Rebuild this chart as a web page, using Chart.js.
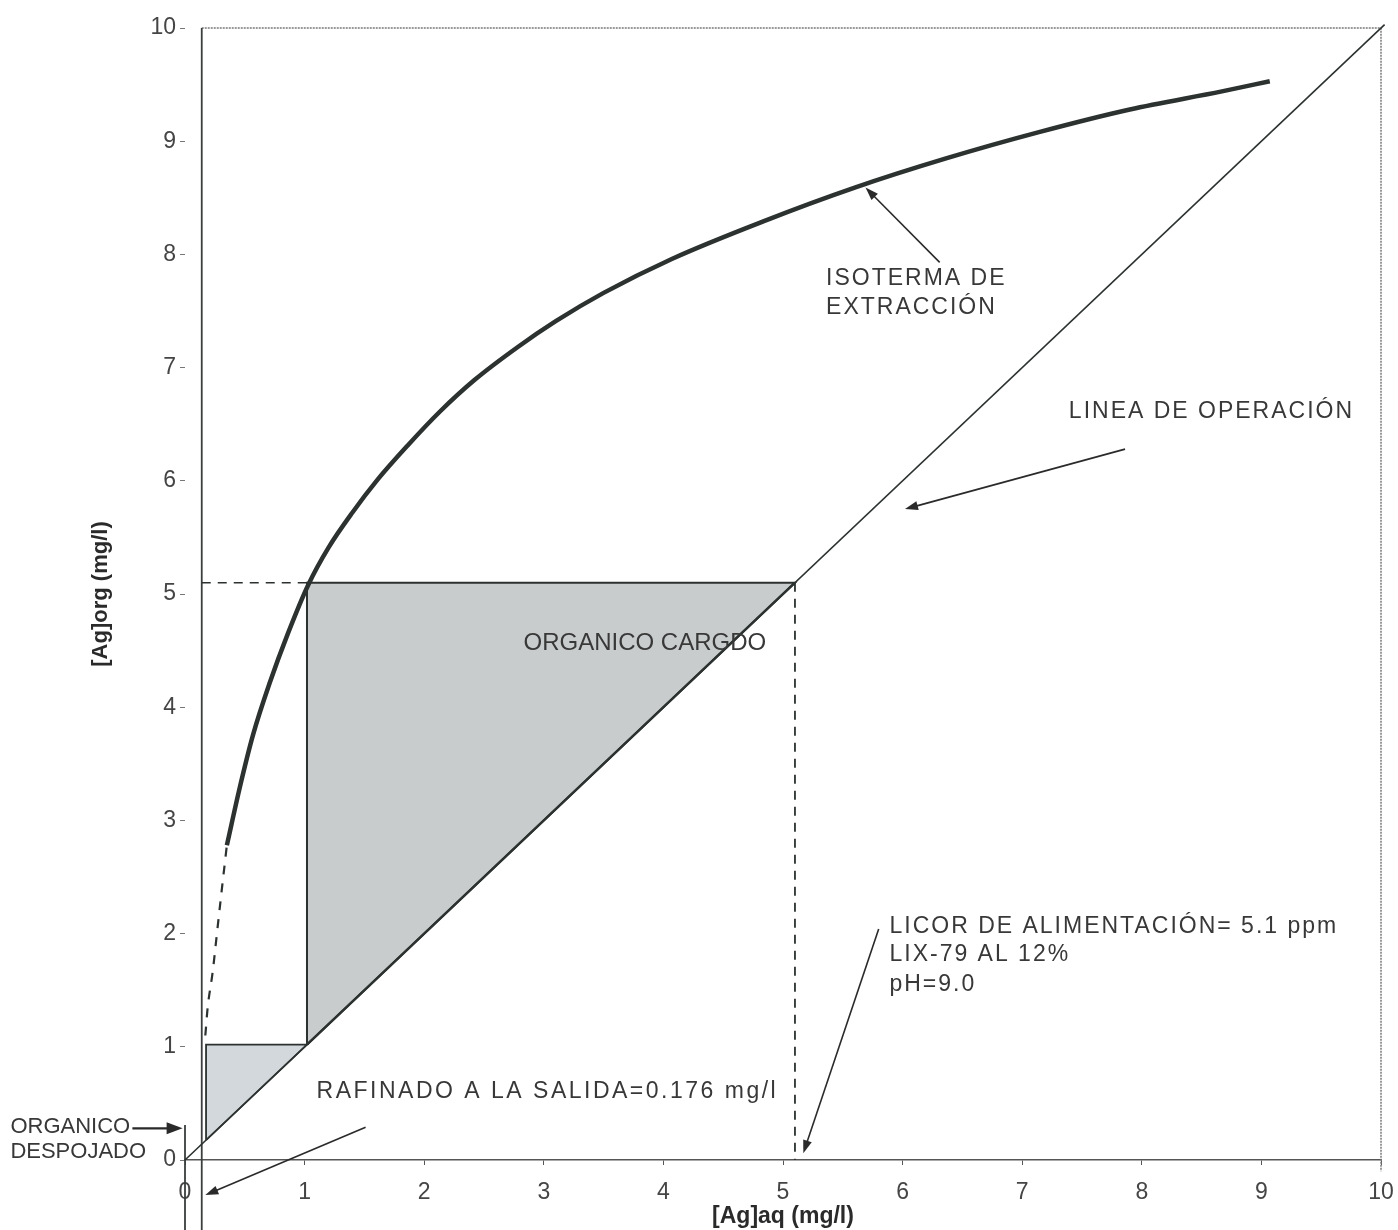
<!DOCTYPE html>
<html>
<head>
<meta charset="utf-8">
<script src="https://cdn.jsdelivr.net/npm/chart.js@4.4.1/dist/chart.umd.min.js"></script>
<style>
  html, body { margin: 0; padding: 0; background: #ffffff; }
  canvas { display: block; }
</style>
</head>
<body>
<canvas id="chart" width="1398" height="1230"></canvas>
<script>
// Extraction isotherm: [Ag] in aqueous vs organic phase (mg/l)
const isoAq  = [0.35, 0.46, 0.57, 0.71, 0.86, 1.03, 1.20, 1.40, 1.61, 1.86, 2.13, 2.42, 2.78, 3.10, 3.50, 4.07, 4.83, 5.60, 6.37, 7.14, 7.90, 8.67, 9.07];
const isoOrg = [2.78, 3.30, 3.76, 4.22, 4.65, 5.08, 5.41, 5.72, 6.01, 6.31, 6.61, 6.89, 7.18, 7.41, 7.66, 7.96, 8.29, 8.59, 8.85, 9.08, 9.28, 9.44, 9.53];

// Extrapolated low end of the isotherm (dashed)
const isoExtAq  = [0.17, 0.19, 0.23, 0.27, 0.31, 0.35];
const isoExtOrg = [1.10, 1.35, 1.65, 2.03, 2.41, 2.78];

// Operating line
const opAq  = [0, 10.03];
const opOrg = [0, 10.03];

// Stage construction: raffinate, stage 1, feed liquor
const stageAq  = [0.176, 1.02, 5.1];
const stageOrg = [1.02, 5.1];
const feedAq = 5.1;
const loadedOrg = 5.1;

// Axis ticks
const xTicks = [0, 1, 2, 3, 4, 5, 6, 7, 8, 9, 10];
const yTicks = [0, 1, 2, 3, 4, 5, 6, 7, 8, 9, 10];

const pts = (xs, ys) => xs.map((x, i) => ({ x: x, y: ys[i] }));

// Triangle for each stage: op line -> isotherm (vertical) -> op line (horizontal)
function stageTriangle(k) {
  const a = stageAq[k], b = stageAq[k + 1], o = stageOrg[k];
  return [{ x: a, y: a }, { x: a, y: o }, { x: b, y: o }, { x: a, y: a }];
}

const INK = '#2c3230';
const FONT = '"Liberation Sans", Arial, Helvetica, sans-serif';

const datasets = [
  // shaded stages
  { data: stageTriangle(1), fill: 'shape', backgroundColor: '#c8cccd', borderColor: INK, borderWidth: 2, order: 20 },
  { data: stageTriangle(0), fill: 'shape', backgroundColor: '#d3d8dc', borderColor: INK, borderWidth: 1.8, order: 20 },
  // operating line
  { data: pts(opAq, opOrg), borderColor: INK, borderWidth: 1.6, order: 5 },
  { data: pts([stageAq[1], feedAq], [stageAq[1], feedAq]), borderColor: INK, borderWidth: 2.4, order: 5 },
  // isotherm
  { data: pts(isoAq, isoOrg), borderColor: INK, borderWidth: 4.5, cubicInterpolationMode: 'monotone', order: 1 },
  { data: pts(isoExtAq, isoExtOrg), borderColor: INK, borderWidth: 2.2, borderDash: [9, 9], cubicInterpolationMode: 'monotone', order: 1 },
  // guide lines for the loaded organic and the feed
  { data: [{ x: 0.14, y: loadedOrg }, { x: stageAq[1], y: loadedOrg }], borderColor: INK, borderWidth: 1.6, borderDash: [9, 7], order: 6 },
  { data: [{ x: feedAq, y: loadedOrg }, { x: feedAq, y: 0 }], borderColor: INK, borderWidth: 1.8, borderDash: [9, 7], order: 6 },
  // plot frame
  { data: [{ x: 0.14, y: 10 }, { x: 10, y: 10 }, { x: 10, y: -0.1 }], borderColor: '#7a7a7a', borderWidth: 1.5, borderDash: [2, 1], order: 8 },
  { data: [{ x: 0.14, y: 10 }, { x: 0.14, y: -0.62 }], borderColor: '#3a3f3d', borderWidth: 1.8, order: 7 },
  { data: [{ x: 0, y: 0.31 }, { x: 0, y: -0.62 }], borderColor: '#3a3f3d', borderWidth: 1.8, order: 7 }
].map(d => Object.assign({ showLine: true, pointRadius: 0, pointHoverRadius: 0, clip: false, fill: false, tension: 0 }, d));

// Text notes and arrows, placed in data coordinates
const notes = [
  { text: 'ISOTERMA DE', x: 5.36, y: 7.79 },
  { text: 'EXTRACCIÓN', x: 5.36, y: 7.53 },
  { text: 'LINEA DE OPERACIÓN', x: 7.39, y: 6.61 },
  { text: 'ORGANICO CARGDO', x: 2.83, y: 4.56, size: 24, spacing: 0 },
  { text: 'LICOR DE ALIMENTACIÓN= 5.1 ppm', x: 5.89, y: 2.06 },
  { text: 'LIX-79 AL 12%', x: 5.89, y: 1.81 },
  { text: 'pH=9.0', x: 5.89, y: 1.55 },
  { text: 'RAFINADO A LA SALIDA=0.176 mg/l', x: 1.10, y: 0.60, spacing: 2.5 },
  { text: 'ORGANICO', x: -1.46, y: 0.29, size: 22, spacing: 0 },
  { text: 'DESPOJADO', x: -1.46, y: 0.07, size: 22, spacing: 0 }
];
const arrows = [
  { from: [6.31, 7.93], to: [5.69, 8.59] },
  { from: [7.86, 6.28], to: [6.02, 5.75] },
  { from: [5.80, 2.04], to: [5.17, 0.06] },
  { from: [1.51, 0.29], to: [0.17, -0.31] },
  { from: [-0.44, 0.28], to: [-0.02, 0.28], head: 16, half: 6, width: 2.2 }
];

const notesPlugin = {
  id: 'notes',
  afterDatasetsDraw(chart) {
    const { ctx, scales } = chart;
    const X = v => scales.x.getPixelForValue(v);
    const Y = v => scales.y.getPixelForValue(v);
    ctx.save();
    ctx.fillStyle = '#383838';
    ctx.textAlign = 'left';
    ctx.textBaseline = 'middle';
    notes.forEach(n => {
      ctx.font = (n.size || 23) + 'px ' + FONT;
      ctx.letterSpacing = (n.spacing === undefined ? 2 : n.spacing) + 'px';
      ctx.fillText(n.text, X(n.x), Y(n.y));
    });
    ctx.letterSpacing = '0px';
    ctx.strokeStyle = '#2a2a2a';
    ctx.fillStyle = '#2a2a2a';
    arrows.forEach(a => {
      const x1 = X(a.from[0]), y1 = Y(a.from[1]);
      const x2 = X(a.to[0]), y2 = Y(a.to[1]);
      const ang = Math.atan2(y2 - y1, x2 - x1);
      const len = a.head || 13, half = a.half || 4.5;
      ctx.lineWidth = a.width || 1.6;
      ctx.beginPath();
      ctx.moveTo(x1, y1);
      ctx.lineTo(x2 - Math.cos(ang) * len * 0.8, y2 - Math.sin(ang) * len * 0.8);
      ctx.stroke();
      ctx.beginPath();
      ctx.moveTo(x2, y2);
      ctx.lineTo(x2 - Math.cos(ang) * len - Math.sin(ang) * half, y2 - Math.sin(ang) * len + Math.cos(ang) * half);
      ctx.lineTo(x2 - Math.cos(ang) * len + Math.sin(ang) * half, y2 - Math.sin(ang) * len - Math.cos(ang) * half);
      ctx.closePath();
      ctx.fill();
    });
    ctx.restore();
  }
};

new Chart(document.getElementById('chart'), {
  type: 'scatter',
  data: { datasets: datasets },
  plugins: [notesPlugin],
  options: {
    responsive: false,
    animation: false,
    events: [],
    layout: { padding: { top: 28, right: 17, bottom: 0, left: 0 } },
    plugins: { legend: { display: false }, tooltip: { enabled: false } },
    scales: {
      x: {
        type: 'linear',
        min: xTicks[0],
        max: xTicks[xTicks.length - 1],
        afterFit(scale) { scale.height = 70; scale.paddingLeft = 0; scale.paddingRight = 0; },
        afterBuildTicks(scale) { scale.ticks = xTicks.map(v => ({ value: v })); },
        ticks: { padding: 14, color: '#454545', font: { family: FONT, size: 23 } },
        grid: { drawOnChartArea: false, drawTicks: true, tickLength: 5, color: '#555555' },
        border: { display: true, color: '#555555', width: 1.5 },
        title: {
          display: true, text: '[Ag]aq (mg/l)', color: '#2a2a2a',
          font: { family: FONT, size: 23, weight: 'bold' }, padding: { top: 0, bottom: 0 }
        }
      },
      y: {
        type: 'linear',
        min: yTicks[0],
        max: yTicks[yTicks.length - 1],
        afterFit(scale) { scale.width = 185; scale.paddingTop = 0; scale.paddingBottom = 0; },
        afterBuildTicks(scale) { scale.ticks = yTicks.map(v => ({ value: v })); },
        ticks: { padding: 4, color: '#454545', font: { family: FONT, size: 23 } },
        grid: { drawOnChartArea: false, drawTicks: true, tickLength: 5, color: '#777777' },
        border: { display: false },
        title: {
          display: true, text: '[Ag]org (mg/l)', color: '#2a2a2a',
          font: { family: FONT, size: 22, weight: 'bold' }, padding: { top: 88, bottom: 0 }
        }
      }
    }
  }
});
</script>
</body>
</html>
